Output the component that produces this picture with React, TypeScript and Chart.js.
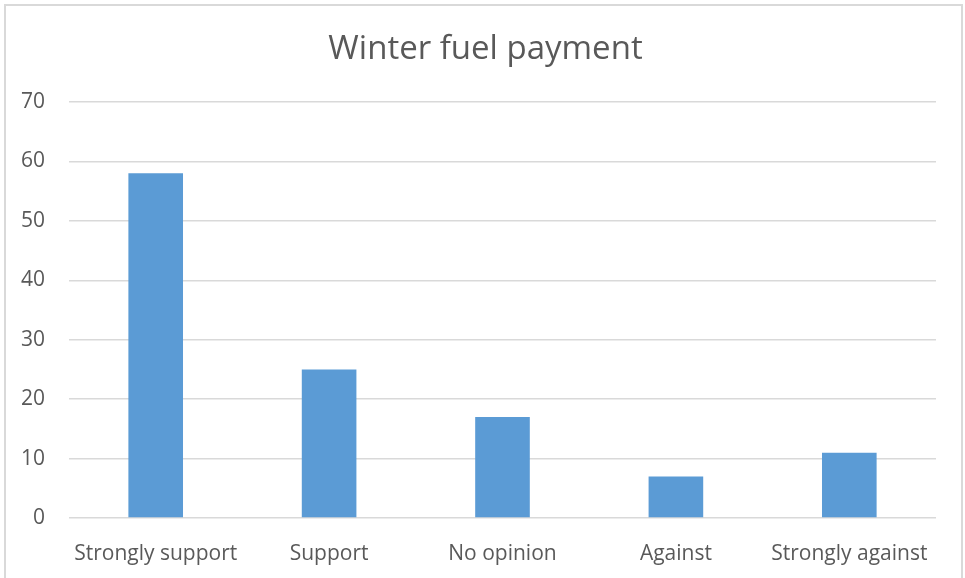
import React, { useEffect, useRef } from "react";
import { Chart, registerables } from "chart.js";

Chart.register(...registerables);

const categories = ["Strongly support", "Support", "No opinion", "Against", "Strongly against"];
const values = [58, 25, 17, 7, 11];
const yTicks = [0, 10, 20, 30, 40, 50, 60, 70];
const titleText = "Winter fuel payment";

const FONT = "'Open Sans', 'Liberation Sans', sans-serif";

const titleShift = {
  id: "titleShift",
  afterLayout(chart: any) {
    const t = chart.titleBlock;
    if (t) {
      t.left = 35;
    }
  },
};

export default function App() {
  const ref = useRef<HTMLCanvasElement | null>(null);
  useEffect(() => {
    if (!ref.current) return;
    const chart = new Chart(ref.current, {
      type: "bar",
      data: {
        labels: categories,
        datasets: [
          {
            data: values,
            backgroundColor: "#5B9BD5",
            borderWidth: 0,
            barPercentage: 0.315,
            categoryPercentage: 1,
          },
        ],
      },
      options: {
        responsive: false,
        animation: false,
        devicePixelRatio: 1,
        layout: { padding: { left: 0, right: 29, top: 0, bottom: 0 } },
        plugins: {
          legend: { display: false },
          tooltip: { enabled: false },
          title: {
            display: true,
            text: titleText,
            color: "#595959",
            font: { family: FONT, size: 33, weight: "normal" },
            padding: { top: 30, bottom: 32.4 },
          },
        },
        scales: {
          x: {
            grid: { display: false },
            border: { display: false },
            ticks: {
              color: "#595959",
              font: { family: FONT, size: 21 },
              padding: 15,
              maxRotation: 0,
              autoSkip: false,
            },
            afterFit: (s: any) => {
              s.height = 60;
            },
          },
          y: {
            min: 0,
            max: 70,
            afterBuildTicks: (s: any) => {
              s.ticks = yTicks.map((v) => ({ value: v }));
            },
            grid: { color: "#d9d9d9", lineWidth: 1.5, drawTicks: false },
            border: { display: false },
            ticks: {
              color: "#595959",
              font: { family: FONT, size: 21 },
              padding: 24,
            },
            afterFit: (s: any) => {
              s.width = 69;
            },
          },
        },
      },
      plugins: [titleShift],
    });
    return () => chart.destroy();
  }, []);

  return (
    <div style={{ position: "fixed", left: 0, top: 0, width: 965, height: 578, background: "#fff", overflow: "hidden" }}>
      <canvas ref={ref} width={965} height={578} style={{ position: "absolute", left: 0, top: 0 }} />
      <div
        style={{
          position: "absolute",
          left: 4,
          top: 4,
          width: 955,
          height: 590,
          border: "2px solid #d9d9d9",
          pointerEvents: "none",
        }}
      />
    </div>
  );
}
